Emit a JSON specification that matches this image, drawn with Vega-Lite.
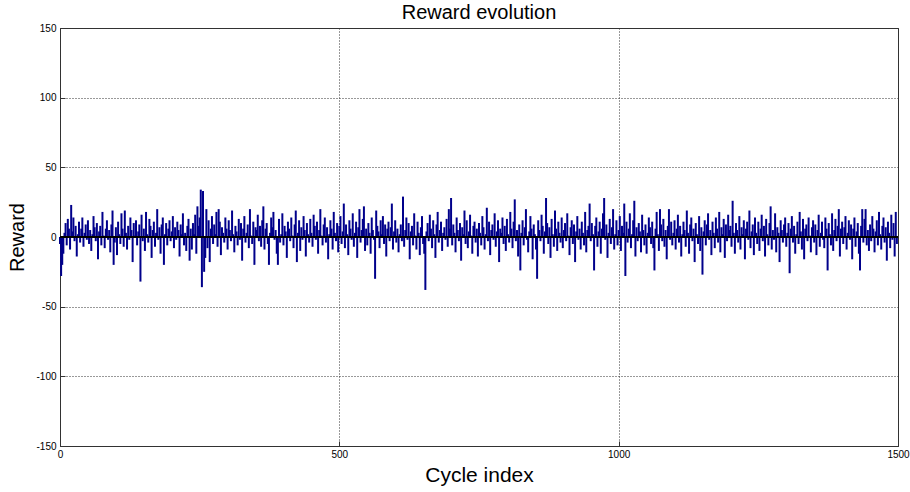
{
"$schema": "https://vega.github.io/schema/vega-lite/v6.json",
"width": 838, "height": 418,
"autosize": {"type": "none"},
"padding": {"left": 60, "top": 28, "right": 12, "bottom": 46},
"background": "white",
"title": {"text": "Reward evolution", "fontSize": 20, "fontWeight": "normal", "font": "Liberation Sans", "color": "#000", "offset": 6, "dy": 6},
"config": {"view": {"stroke": "#333", "strokeWidth": 1}, "font": "Liberation Sans"},
"data": {"values": [
{"x":0,"y":-5},{"x":2,"y":-28},{"x":4,"y":-20},{"x":6,"y":-12},{"x":8,"y":3},{"x":10,"y":10},{"x":12,"y":-6},{"x":14,"y":13},{"x":16,"y":6},{"x":18,"y":-9},{"x":20,"y":23},{"x":22,"y":4},{"x":24,"y":14},{"x":26,"y":-3},{"x":28,"y":8},{"x":30,"y":-14},{"x":32,"y":2},{"x":34,"y":11},{"x":36,"y":-4},{"x":38,"y":6},{"x":40,"y":14},{"x":42,"y":-7},{"x":44,"y":3},{"x":46,"y":9},{"x":48,"y":-2},
{"x":50,"y":12},{"x":52,"y":-5},{"x":54,"y":5},{"x":56,"y":-10},{"x":58,"y":2},{"x":60,"y":15},{"x":62,"y":7},{"x":64,"y":-3},{"x":66,"y":10},{"x":68,"y":-16},{"x":70,"y":4},{"x":72,"y":8},{"x":74,"y":-6},{"x":76,"y":18},{"x":78,"y":1},{"x":80,"y":-8},{"x":82,"y":6},{"x":84,"y":12},{"x":86,"y":-2},{"x":88,"y":5},{"x":90,"y":-11},{"x":92,"y":9},{"x":94,"y":19},{"x":96,"y":-20},{"x":98,"y":-4},
{"x":100,"y":7},{"x":102,"y":-13},{"x":104,"y":11},{"x":106,"y":2},{"x":108,"y":-5},{"x":110,"y":17},{"x":112,"y":6},{"x":114,"y":-7},{"x":116,"y":19},{"x":118,"y":3},{"x":120,"y":-9},{"x":122,"y":8},{"x":124,"y":-2},{"x":126,"y":14},{"x":128,"y":5},{"x":130,"y":-18},{"x":132,"y":10},{"x":134,"y":1},{"x":136,"y":12},{"x":138,"y":-6},{"x":140,"y":4},{"x":142,"y":9},{"x":144,"y":-32},{"x":146,"y":16},{"x":148,"y":-3},
{"x":150,"y":6},{"x":152,"y":-10},{"x":154,"y":18},{"x":156,"y":2},{"x":158,"y":-4},{"x":160,"y":13},{"x":162,"y":8},{"x":164,"y":-15},{"x":166,"y":5},{"x":168,"y":11},{"x":170,"y":-7},{"x":172,"y":3},{"x":174,"y":20},{"x":176,"y":-2},{"x":178,"y":7},{"x":180,"y":-12},{"x":182,"y":9},{"x":184,"y":14},{"x":186,"y":-20},{"x":188,"y":2},{"x":190,"y":10},{"x":192,"y":-6},{"x":194,"y":6},{"x":196,"y":12},{"x":198,"y":-3},
{"x":200,"y":4},{"x":202,"y":15},{"x":204,"y":-8},{"x":206,"y":7},{"x":208,"y":-2},{"x":210,"y":11},{"x":212,"y":5},{"x":214,"y":-14},{"x":216,"y":9},{"x":218,"y":2},{"x":220,"y":17},{"x":222,"y":-6},{"x":224,"y":3},{"x":226,"y":-10},{"x":228,"y":8},{"x":230,"y":13},{"x":232,"y":-17},{"x":234,"y":6},{"x":236,"y":-9},{"x":238,"y":10},{"x":240,"y":2},{"x":242,"y":16},{"x":244,"y":-12},{"x":246,"y":22},{"x":248,"y":8},
{"x":250,"y":14},{"x":252,"y":34},{"x":254,"y":-36},{"x":256,"y":33},{"x":258,"y":-25},{"x":260,"y":-15},{"x":262,"y":20},{"x":264,"y":-8},{"x":266,"y":12},{"x":268,"y":-18},{"x":270,"y":6},{"x":272,"y":15},{"x":274,"y":-5},{"x":276,"y":9},{"x":278,"y":2},{"x":280,"y":18},{"x":282,"y":-7},{"x":284,"y":20},{"x":286,"y":11},{"x":288,"y":-13},{"x":290,"y":7},{"x":292,"y":3},{"x":294,"y":-4},{"x":296,"y":14},{"x":298,"y":6},
{"x":300,"y":-9},{"x":302,"y":12},{"x":304,"y":5},{"x":306,"y":-3},{"x":308,"y":19},{"x":310,"y":2},{"x":312,"y":-11},{"x":314,"y":8},{"x":316,"y":4},{"x":318,"y":-6},{"x":320,"y":13},{"x":322,"y":-2},{"x":324,"y":10},{"x":326,"y":-17},{"x":328,"y":6},{"x":330,"y":15},{"x":332,"y":-4},{"x":334,"y":3},{"x":336,"y":9},{"x":338,"y":-8},{"x":340,"y":20},{"x":342,"y":1},{"x":344,"y":-5},{"x":346,"y":11},{"x":348,"y":-20},
{"x":350,"y":7},{"x":352,"y":5},{"x":354,"y":16},{"x":356,"y":-3},{"x":358,"y":8},{"x":360,"y":-7},{"x":362,"y":12},{"x":364,"y":22},{"x":366,"y":-9},{"x":368,"y":6},{"x":370,"y":10},{"x":372,"y":-5},{"x":374,"y":-20},{"x":376,"y":3},{"x":378,"y":14},{"x":380,"y":7},{"x":382,"y":18},{"x":384,"y":-2},{"x":386,"y":5},{"x":388,"y":-12},{"x":390,"y":-20},{"x":392,"y":13},{"x":394,"y":-4},{"x":396,"y":2},{"x":398,"y":17},
{"x":400,"y":-6},{"x":402,"y":8},{"x":404,"y":4},{"x":406,"y":-15},{"x":408,"y":11},{"x":410,"y":6},{"x":412,"y":-3},{"x":414,"y":14},{"x":416,"y":1},{"x":418,"y":-8},{"x":420,"y":9},{"x":422,"y":19},{"x":424,"y":-18},{"x":426,"y":3},{"x":428,"y":12},{"x":430,"y":-10},{"x":432,"y":7},{"x":434,"y":-2},{"x":436,"y":15},{"x":438,"y":5},{"x":440,"y":-14},{"x":442,"y":10},{"x":444,"y":2},{"x":446,"y":-4},{"x":448,"y":13},
{"x":450,"y":3},{"x":452,"y":-7},{"x":454,"y":16},{"x":456,"y":8},{"x":458,"y":-2},{"x":460,"y":11},{"x":462,"y":-12},{"x":464,"y":5},{"x":466,"y":20},{"x":468,"y":1},{"x":470,"y":-6},{"x":472,"y":9},{"x":474,"y":14},{"x":476,"y":-4},{"x":478,"y":7},{"x":480,"y":-16},{"x":482,"y":2},{"x":484,"y":12},{"x":486,"y":6},{"x":488,"y":-9},{"x":490,"y":18},{"x":492,"y":3},{"x":494,"y":-3},{"x":496,"y":10},{"x":498,"y":-11},
{"x":500,"y":8},{"x":502,"y":15},{"x":504,"y":-5},{"x":506,"y":4},{"x":508,"y":24},{"x":510,"y":-8},{"x":512,"y":9},{"x":514,"y":2},{"x":516,"y":-13},{"x":518,"y":12},{"x":520,"y":6},{"x":522,"y":-2},{"x":524,"y":17},{"x":526,"y":-7},{"x":528,"y":3},{"x":530,"y":11},{"x":532,"y":-15},{"x":534,"y":7},{"x":536,"y":20},{"x":538,"y":-4},{"x":540,"y":5},{"x":542,"y":13},{"x":544,"y":22},{"x":546,"y":-10},{"x":548,"y":6},
{"x":550,"y":-6},{"x":552,"y":10},{"x":554,"y":3},{"x":556,"y":-12},{"x":558,"y":14},{"x":560,"y":5},{"x":562,"y":-2},{"x":564,"y":-30},{"x":566,"y":19},{"x":568,"y":8},{"x":570,"y":4},{"x":572,"y":-8},{"x":574,"y":12},{"x":576,"y":2},{"x":578,"y":15},{"x":580,"y":-5},{"x":582,"y":9},{"x":584,"y":-14},{"x":586,"y":6},{"x":588,"y":11},{"x":590,"y":-3},{"x":592,"y":7},{"x":594,"y":24},{"x":596,"y":-9},{"x":598,"y":4},
{"x":600,"y":12},{"x":602,"y":-4},{"x":604,"y":6},{"x":606,"y":-11},{"x":608,"y":2},{"x":610,"y":9},{"x":612,"y":-3},{"x":614,"y":29},{"x":616,"y":-7},{"x":618,"y":5},{"x":620,"y":14},{"x":622,"y":-2},{"x":624,"y":10},{"x":626,"y":-16},{"x":628,"y":4},{"x":630,"y":8},{"x":632,"y":-6},{"x":634,"y":17},{"x":636,"y":1},{"x":638,"y":-9},{"x":640,"y":11},{"x":642,"y":3},{"x":644,"y":-13},{"x":646,"y":7},{"x":648,"y":15},
{"x":650,"y":-5},{"x":652,"y":-12},{"x":654,"y":-38},{"x":656,"y":4},{"x":658,"y":10},{"x":660,"y":-3},{"x":662,"y":16},{"x":664,"y":6},{"x":666,"y":-8},{"x":668,"y":12},{"x":670,"y":2},{"x":672,"y":-15},{"x":674,"y":9},{"x":676,"y":18},{"x":678,"y":-4},{"x":680,"y":5},{"x":682,"y":11},{"x":684,"y":-10},{"x":686,"y":3},{"x":688,"y":7},{"x":690,"y":-2},{"x":692,"y":13},{"x":694,"y":-7},{"x":696,"y":20},{"x":698,"y":6},
{"x":700,"y":28},{"x":702,"y":-6},{"x":704,"y":9},{"x":706,"y":3},{"x":708,"y":-11},{"x":710,"y":14},{"x":712,"y":5},{"x":714,"y":-3},{"x":716,"y":10},{"x":718,"y":-17},{"x":720,"y":7},{"x":722,"y":2},{"x":724,"y":19},{"x":726,"y":-5},{"x":728,"y":12},{"x":730,"y":-8},{"x":732,"y":4},{"x":734,"y":16},{"x":736,"y":1},{"x":738,"y":-12},{"x":740,"y":8},{"x":742,"y":11},{"x":744,"y":-4},{"x":746,"y":6},{"x":748,"y":-14},
{"x":750,"y":10},{"x":752,"y":3},{"x":754,"y":-6},{"x":756,"y":15},{"x":758,"y":7},{"x":760,"y":-9},{"x":762,"y":2},{"x":764,"y":21},{"x":766,"y":-3},{"x":768,"y":11},{"x":770,"y":-13},{"x":772,"y":5},{"x":774,"y":9},{"x":776,"y":-2},{"x":778,"y":17},{"x":780,"y":-7},{"x":782,"y":4},{"x":784,"y":12},{"x":786,"y":-18},{"x":788,"y":6},{"x":790,"y":3},{"x":792,"y":14},{"x":794,"y":-5},{"x":796,"y":8},{"x":798,"y":-10},
{"x":800,"y":13},{"x":802,"y":2},{"x":804,"y":-4},{"x":806,"y":18},{"x":808,"y":6},{"x":810,"y":-8},{"x":812,"y":11},{"x":814,"y":27},{"x":816,"y":-3},{"x":818,"y":5},{"x":820,"y":-14},{"x":822,"y":9},{"x":824,"y":-24},{"x":826,"y":3},{"x":828,"y":12},{"x":830,"y":-6},{"x":832,"y":7},{"x":834,"y":20},{"x":836,"y":-2},{"x":838,"y":-11},{"x":840,"y":4},{"x":842,"y":15},{"x":844,"y":6},{"x":846,"y":-16},{"x":848,"y":9},
{"x":850,"y":2},{"x":852,"y":-9},{"x":854,"y":-30},{"x":856,"y":12},{"x":858,"y":5},{"x":860,"y":-3},{"x":862,"y":16},{"x":864,"y":8},{"x":866,"y":-12},{"x":868,"y":4},{"x":870,"y":28},{"x":872,"y":10},{"x":874,"y":-5},{"x":876,"y":7},{"x":878,"y":-15},{"x":880,"y":13},{"x":882,"y":2},{"x":884,"y":-7},{"x":886,"y":19},{"x":888,"y":6},{"x":890,"y":-10},{"x":892,"y":11},{"x":894,"y":3},{"x":896,"y":-4},{"x":898,"y":14},
{"x":900,"y":-8},{"x":902,"y":5},{"x":904,"y":10},{"x":906,"y":-3},{"x":908,"y":17},{"x":910,"y":1},{"x":912,"y":-13},{"x":914,"y":7},{"x":916,"y":12},{"x":918,"y":-5},{"x":920,"y":9},{"x":922,"y":-18},{"x":924,"y":4},{"x":926,"y":15},{"x":928,"y":-2},{"x":930,"y":6},{"x":932,"y":-9},{"x":934,"y":11},{"x":936,"y":3},{"x":938,"y":-6},{"x":940,"y":18},{"x":942,"y":-11},{"x":944,"y":5},{"x":946,"y":8},{"x":948,"y":24},
{"x":950,"y":-3},{"x":952,"y":10},{"x":954,"y":2},{"x":956,"y":-24},{"x":958,"y":8},{"x":960,"y":14},{"x":962,"y":-7},{"x":964,"y":4},{"x":966,"y":11},{"x":968,"y":-12},{"x":970,"y":6},{"x":972,"y":17},{"x":974,"y":28},{"x":976,"y":-2},{"x":978,"y":9},{"x":980,"y":-15},{"x":982,"y":3},{"x":984,"y":13},{"x":986,"y":-5},{"x":988,"y":7},{"x":990,"y":20},{"x":992,"y":-9},{"x":994,"y":2},{"x":996,"y":12},{"x":998,"y":-6},
{"x":1000,"y":5},{"x":1002,"y":15},{"x":1004,"y":-10},{"x":1006,"y":8},{"x":1008,"y":3},{"x":1010,"y":24},{"x":1012,"y":-28},{"x":1014,"y":11},{"x":1016,"y":-4},{"x":1018,"y":6},{"x":1020,"y":17},{"x":1022,"y":-8},{"x":1024,"y":2},{"x":1026,"y":12},{"x":1028,"y":26},{"x":1030,"y":-14},{"x":1032,"y":7},{"x":1034,"y":-3},{"x":1036,"y":10},{"x":1038,"y":4},{"x":1040,"y":-11},{"x":1042,"y":16},{"x":1044,"y":5},{"x":1046,"y":-6},{"x":1048,"y":9},
{"x":1050,"y":-12},{"x":1052,"y":3},{"x":1054,"y":14},{"x":1056,"y":7},{"x":1058,"y":-5},{"x":1060,"y":11},{"x":1062,"y":-8},{"x":1064,"y":-24},{"x":1066,"y":6},{"x":1068,"y":18},{"x":1070,"y":2},{"x":1072,"y":-10},{"x":1074,"y":20},{"x":1076,"y":9},{"x":1078,"y":-3},{"x":1080,"y":13},{"x":1082,"y":-7},{"x":1084,"y":5},{"x":1086,"y":-16},{"x":1088,"y":8},{"x":1090,"y":20},{"x":1092,"y":-2},{"x":1094,"y":11},{"x":1096,"y":-6},{"x":1098,"y":3},
{"x":1100,"y":12},{"x":1102,"y":-9},{"x":1104,"y":6},{"x":1106,"y":16},{"x":1108,"y":-4},{"x":1110,"y":8},{"x":1112,"y":-14},{"x":1114,"y":2},{"x":1116,"y":11},{"x":1118,"y":5},{"x":1120,"y":-7},{"x":1122,"y":19},{"x":1124,"y":3},{"x":1126,"y":-12},{"x":1128,"y":9},{"x":1130,"y":14},{"x":1132,"y":-3},{"x":1134,"y":6},{"x":1136,"y":-18},{"x":1138,"y":10},{"x":1140,"y":2},{"x":1142,"y":-5},{"x":1144,"y":15},{"x":1146,"y":-10},{"x":1148,"y":7},
{"x":1150,"y":-27},{"x":1152,"y":4},{"x":1154,"y":12},{"x":1156,"y":-6},{"x":1158,"y":9},{"x":1160,"y":17},{"x":1162,"y":-2},{"x":1164,"y":5},{"x":1166,"y":-13},{"x":1168,"y":11},{"x":1170,"y":3},{"x":1172,"y":-8},{"x":1174,"y":14},{"x":1176,"y":6},{"x":1178,"y":-4},{"x":1180,"y":18},{"x":1182,"y":-11},{"x":1184,"y":7},{"x":1186,"y":2},{"x":1188,"y":13},{"x":1190,"y":-15},{"x":1192,"y":9},{"x":1194,"y":-3},{"x":1196,"y":16},{"x":1198,"y":5},
{"x":1200,"y":8},{"x":1202,"y":-7},{"x":1204,"y":26},{"x":1206,"y":3},{"x":1208,"y":-12},{"x":1210,"y":10},{"x":1212,"y":5},{"x":1214,"y":-4},{"x":1216,"y":15},{"x":1218,"y":-9},{"x":1220,"y":7},{"x":1222,"y":2},{"x":1224,"y":12},{"x":1226,"y":-16},{"x":1228,"y":6},{"x":1230,"y":11},{"x":1232,"y":-2},{"x":1234,"y":19},{"x":1236,"y":-8},{"x":1238,"y":4},{"x":1240,"y":9},{"x":1242,"y":-13},{"x":1244,"y":14},{"x":1246,"y":3},{"x":1248,"y":-5},
{"x":1250,"y":11},{"x":1252,"y":-10},{"x":1254,"y":6},{"x":1256,"y":16},{"x":1258,"y":-3},{"x":1260,"y":8},{"x":1262,"y":-14},{"x":1264,"y":13},{"x":1266,"y":2},{"x":1268,"y":-6},{"x":1270,"y":10},{"x":1272,"y":22},{"x":1274,"y":-9},{"x":1276,"y":5},{"x":1278,"y":-2},{"x":1280,"y":17},{"x":1282,"y":-11},{"x":1284,"y":7},{"x":1286,"y":3},{"x":1288,"y":-18},{"x":1290,"y":12},{"x":1292,"y":5},{"x":1294,"y":-4},{"x":1296,"y":9},{"x":1298,"y":14},
{"x":1300,"y":-7},{"x":1302,"y":3},{"x":1304,"y":10},{"x":1306,"y":-26},{"x":1308,"y":6},{"x":1310,"y":15},{"x":1312,"y":-4},{"x":1314,"y":8},{"x":1316,"y":-12},{"x":1318,"y":2},{"x":1320,"y":11},{"x":1322,"y":-5},{"x":1324,"y":18},{"x":1326,"y":4},{"x":1328,"y":-9},{"x":1330,"y":13},{"x":1332,"y":-16},{"x":1334,"y":6},{"x":1336,"y":9},{"x":1338,"y":-3},{"x":1340,"y":14},{"x":1342,"y":1},{"x":1344,"y":-11},{"x":1346,"y":7},{"x":1348,"y":12},
{"x":1350,"y":-4},{"x":1352,"y":9},{"x":1354,"y":-13},{"x":1356,"y":5},{"x":1358,"y":16},{"x":1360,"y":-7},{"x":1362,"y":3},{"x":1364,"y":11},{"x":1366,"y":-2},{"x":1368,"y":-8},{"x":1370,"y":14},{"x":1372,"y":6},{"x":1374,"y":-24},{"x":1376,"y":10},{"x":1378,"y":2},{"x":1380,"y":-6},{"x":1382,"y":17},{"x":1384,"y":-10},{"x":1386,"y":5},{"x":1388,"y":13},{"x":1390,"y":-3},{"x":1392,"y":8},{"x":1394,"y":20},{"x":1396,"y":-14},{"x":1398,"y":6},
{"x":1400,"y":11},{"x":1402,"y":-5},{"x":1404,"y":7},{"x":1406,"y":15},{"x":1408,"y":-9},{"x":1410,"y":3},{"x":1412,"y":12},{"x":1414,"y":-2},{"x":1416,"y":9},{"x":1418,"y":-16},{"x":1420,"y":6},{"x":1422,"y":14},{"x":1424,"y":-7},{"x":1426,"y":4},{"x":1428,"y":10},{"x":1430,"y":-12},{"x":1432,"y":-24},{"x":1434,"y":8},{"x":1436,"y":20},{"x":1438,"y":-4},{"x":1440,"y":13},{"x":1442,"y":20},{"x":1444,"y":-6},{"x":1446,"y":5},{"x":1448,"y":-10},
{"x":1450,"y":9},{"x":1452,"y":-3},{"x":1454,"y":15},{"x":1456,"y":6},{"x":1458,"y":-11},{"x":1460,"y":4},{"x":1462,"y":12},{"x":1464,"y":-6},{"x":1466,"y":18},{"x":1468,"y":2},{"x":1470,"y":-9},{"x":1472,"y":8},{"x":1474,"y":14},{"x":1476,"y":-4},{"x":1478,"y":7},{"x":1480,"y":-17},{"x":1482,"y":11},{"x":1484,"y":3},{"x":1486,"y":-8},{"x":1488,"y":16},{"x":1490,"y":-2},{"x":1492,"y":10},{"x":1494,"y":-14},{"x":1496,"y":18},{"x":1498,"y":-5}
]},
"layer": [
{
"mark": {"type": "rule", "color": "#00008B", "strokeWidth": 2},
"encoding": {
"x": {"field": "x", "type": "quantitative", "scale": {"domain": [0, 1500], "nice": false},
"axis": {"values": [0, 500, 1000, 1500], "labelExpr": "'' + datum.value", "labelFlush": false, "labelOverlap": false, "grid": true, "gridDash": [1, 2], "gridColor": "#333", "gridOpacity": 1, "domain": false, "tickSize": -5, "tickColor": "#333", "labelFontSize": 10, "labelColor": "#000", "labelPadding": 8, "title": "Cycle index", "titleFontSize": 21, "titleFontWeight": "normal", "titleColor": "#000", "titlePadding": 5}},
"y": {"field": "y", "type": "quantitative", "scale": {"domain": [-150, 150], "nice": false},
"axis": {"values": [-150, -100, -50, 0, 50, 100, 150], "labelExpr": "'' + datum.value", "labelFlush": false, "labelOverlap": false, "grid": true, "gridDash": [1, 2], "gridColor": "#333", "gridOpacity": 1, "domain": false, "tickSize": -5, "tickColor": "#333", "labelFontSize": 10, "labelColor": "#000", "labelPadding": 9, "title": "Reward", "titleFontSize": 20, "titleFontWeight": "normal", "titleColor": "#000", "titlePadding": 8}},
"y2": {"datum": 0}
}
},
{
"mark": {"type": "rule", "color": "#000", "strokeWidth": 1.5},
"encoding": {"y": {"datum": 0, "type": "quantitative"}}
}
]
}
